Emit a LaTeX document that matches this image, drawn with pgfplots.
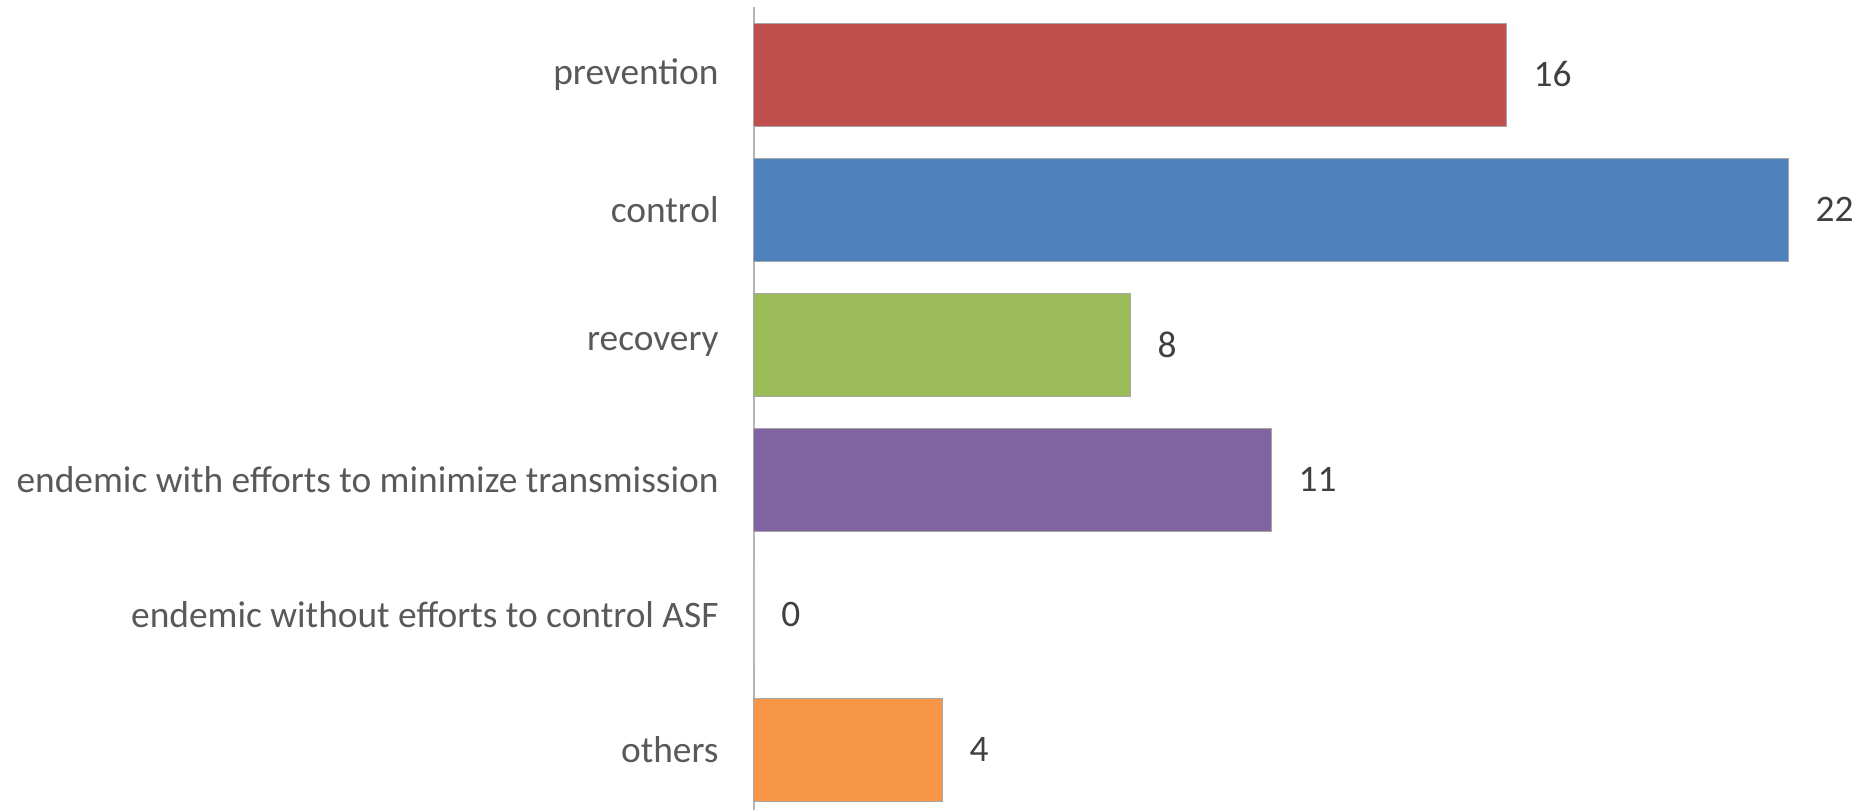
\documentclass[border=0pt]{standalone}
\usepackage{pgfplots}
\pgfplotsset{compat=1.18}
\usepackage{fontspec}
\setmainfont{Carlito}

\definecolor{cPrev}{HTML}{C0504D}
\definecolor{cCtrl}{HTML}{4F81BD}
\definecolor{cReco}{HTML}{9BBB59}
\definecolor{cEndm}{HTML}{8064A2}
\definecolor{cOthr}{HTML}{F79646}
\definecolor{cLab}{HTML}{595959}
\definecolor{cVal}{HTML}{404040}
\definecolor{cAxis}{HTML}{B3B3B3}
\definecolor{cEdge}{HTML}{A6A6A6}

\pgfplotsset{
  catbar/.style={xbar, bar shift=0pt, bar width=0.763, draw=cEdge, line width=0.5pt, fill=#1},
}

\begin{document}
\begin{tikzpicture}
\useasboundingbox (-377pt,0) rectangle (558pt,405pt);
\begin{axis}[
  at={(0,0)}, anchor=south west,
  scale only axis,
  width=558pt, height=401.5pt,
  xmin=0, xmax=23.74,
  ymin=-0.5, ymax=5.448,
  y dir=reverse,
  axis x line=none,
  axis y line*=left,
  y axis line style={draw=cAxis, line width=1.2pt},
  ytick={0,1,2,3,4,5},
  yticklabels={prevention, control, recovery, endemic with efforts to minimize transmission, endemic without efforts to control ASF, others},
  major tick length=0pt,
  yticklabel shift=17.5pt,
  yticklabel style={inner sep=0pt, anchor=east, text=cLab, font=\fontsize{18.7}{22}\selectfont},
  /pgf/number format/assume math mode=true,
  point meta=x,
  nodes near coords={\pgfmathprintnumber{\pgfplotspointmeta}},
  nodes near coords style={anchor=west, inner sep=0pt, xshift=13.5pt, text=cVal, font=\fontsize{18.7}{22}\selectfont},
  clip=false,
]
\addplot[catbar=cPrev] coordinates {(16,0)};
\addplot[catbar=cCtrl] coordinates {(22,1)};
\addplot[catbar=cReco] coordinates {(8,2)};
\addplot[catbar=cEndm] coordinates {(11,3)};
\addplot[catbar=white, draw=none] coordinates {(0,4)};
\addplot[catbar=cOthr] coordinates {(4,5)};
\end{axis}
\end{tikzpicture}
\end{document}
